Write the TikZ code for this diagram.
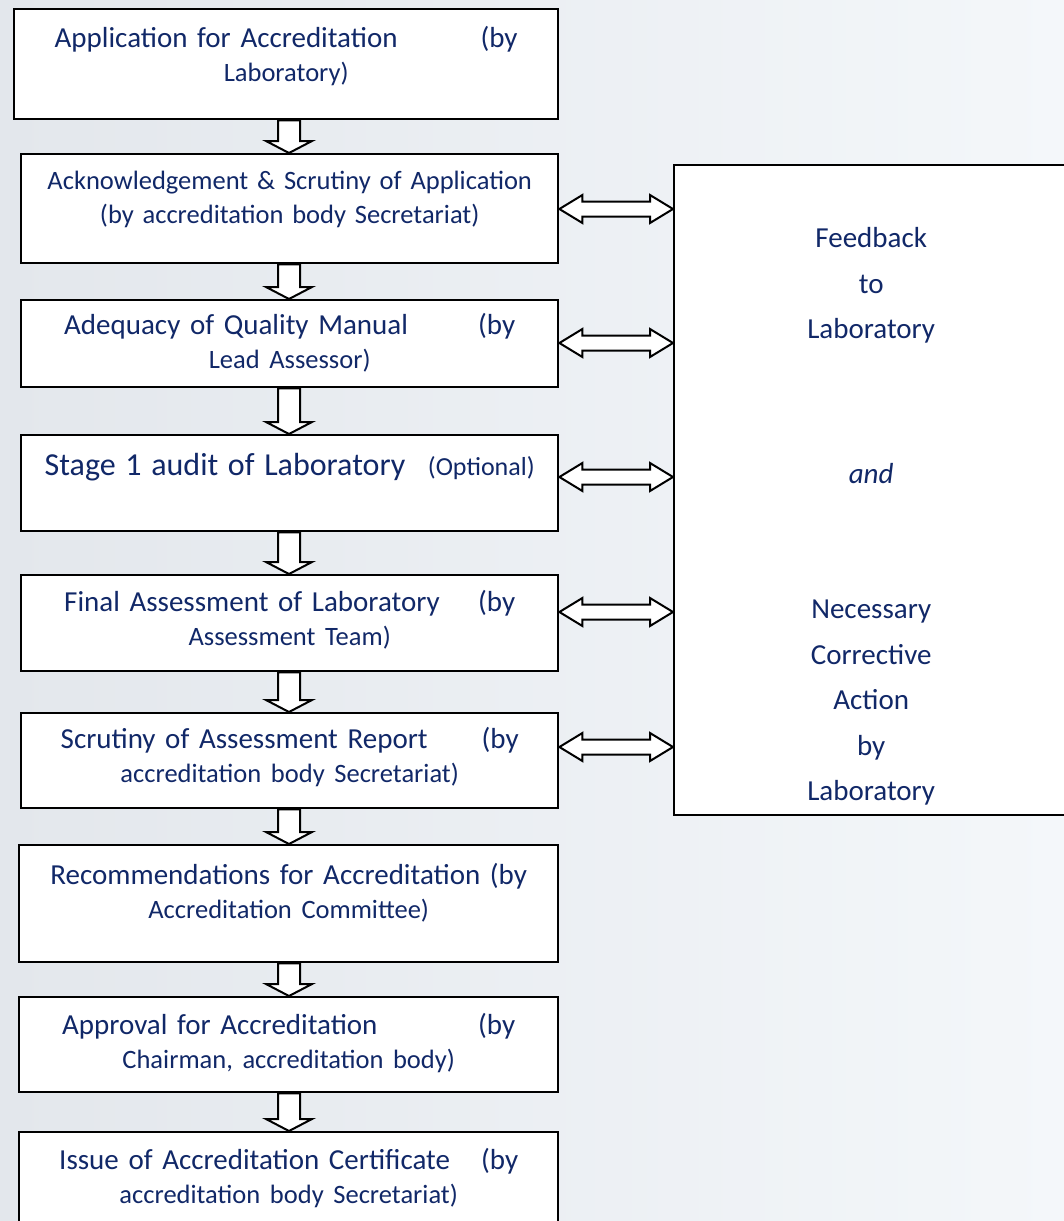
\documentclass[tikz,border=0pt]{standalone}
\usepackage{fontspec}
\setmainfont{Carlito}
\usetikzlibrary{positioning,calc}
\definecolor{navy}{HTML}{112868}
\definecolor{bgleft}{HTML}{E3E7EC}
\definecolor{bgright}{HTML}{F4F7FA}
\newcommand{\subline}{\fontsize{13.25}{17}\selectfont}
\tikzset{
  stage/.style={draw, line width=1.2pt, fill=white, inner sep=0pt, anchor=north west},
  words/.style={text=navy, inner sep=0pt, anchor=north, align=center, text width=228pt,
                font=\fontsize{14.5}{17}\selectfont},
  hollow/.style={draw, line width=1pt, fill=white, line join=miter},
}
\begin{document}
\begin{tikzpicture}[x=0.5pt, y=-0.5pt]
\useasboundingbox (0,0) rectangle (1064,1221);
\fill[left color=bgleft, right color=bgright] (0,0) rectangle (1064,1221);

% stages
\node[stage, minimum width=272pt,   minimum height=55pt]   (apply)     at (13,8)    {};
\node[stage, minimum width=268.5pt, minimum height=54.5pt] (ack)       at (20,153)  {};
\node[stage, minimum width=268.5pt, minimum height=43.5pt] (manual)    at (20,299)  {};
\node[stage, minimum width=268.5pt, minimum height=48pt]   (stage1)    at (20,434)  {};
\node[stage, minimum width=268.5pt, minimum height=48pt]   (final)     at (20,574)  {};
\node[stage, minimum width=268.5pt, minimum height=47.5pt] (report)    at (20,712)  {};
\node[stage, minimum width=269.5pt, minimum height=58.5pt] (recommend) at (18,844)  {};
\node[stage, minimum width=269.5pt, minimum height=47.5pt] (approve)   at (18,996)  {};
\node[stage, minimum width=269.5pt, minimum height=60pt]   (issue)     at (18,1131) {};
\node[stage, minimum width=197pt,   minimum height=325pt]  (feedback)  at (673,164) {};

\node[words, text width=231.5pt, below=9pt of apply.north] (applytext)
  {Application for Accreditation\hfill(by\\\subline Laboratory)};
\node[words, text width=250pt, font=\subline, below=9pt of ack.north] (acktext)
  {Acknowledgement \& Scrutiny of Application\\(by accreditation body Secretariat)};
\node[words, text width=225.5pt, below=7pt of manual.north] (manualtext)
  {Adequacy of Quality Manual\hfill(by\\\subline Lead Assessor)};
\node[words, text width=245pt, below=9.5pt of stage1.north] (stage1text)
  {{\fontsize{16}{17}\selectfont Stage 1 audit of Laboratory}\hfill{\fontsize{13}{17}\selectfont(Optional)}};
\node[words, text width=225.5pt, below=8pt of final.north] (finaltext)
  {Final Assessment of Laboratory\hfill(by\\\subline Assessment Team)};
\node[words, text width=229pt, below=7.5pt of report.north] (reporttext)
  {Scrutiny of Assessment Report\hfill(by\\\subline accreditation body Secretariat)};
\node[words, text width=250pt, below=9.5pt of recommend.north] (recommendtext)
  {Recommendations for Accreditation (by\\\subline Accreditation Committee)};
\node[words, text width=226.5pt, below=8.5pt of approve.north] (approvetext)
  {Approval for Accreditation\hfill(by\\\subline Chairman, accreditation body)};
\node[words, text width=229.5pt, below=8.5pt of issue.north] (issuetext)
  {Issue of Accreditation Certificate\hfill(by\\\subline accreditation body Secretariat)};

\node[text=navy, inner sep=0pt, anchor=north, align=center, font=\fontsize{14.5}{22.75}\selectfont,
      below=31.5pt of feedback.north] (feedbacktext)
  {Feedback\\to\\Laboratory\\[49.75pt]\textit{and}\\[44.75pt]Necessary\\Corrective\\Action\\by\\Laboratory};

% flow arrows
\foreach \a/\b in {apply/ack, ack/manual, manual/stage1, stage1/final, final/report,
                   report/recommend, recommend/approve, approve/issue} {
  \path (\a.south -| 289,0) coordinate (s) (\b.north -| 289,0) coordinate (e);
  \draw[hollow] ($(s)+(-11,0)$) -- ($(e)+(-11,-12)$) -- ($(e)+(-23,-12)$) -- (e)
     -- ($(e)+(23,-12)$) -- ($(e)+(11,-12)$) -- ($(s)+(11,0)$) -- cycle;
}

% feedback arrows
\foreach \n/\yy in {ack/209, manual/343, stage1/477, final/612, report/747} {
  \path (\n.east |- 0,\yy) coordinate (l) (feedback.west |- 0,\yy) coordinate (r);
  \draw[hollow] (l) -- ++(23,-14) -- ++(0,6.5) -- ($(r)+(-23,-7.5)$) -- ++(0,-6.5) -- (r)
     -- ++(-23,14) -- ++(0,-6.5) -- ($(l)+(23,7.5)$) -- ++(0,6.5) -- cycle;
}
\end{tikzpicture}
\end{document}
